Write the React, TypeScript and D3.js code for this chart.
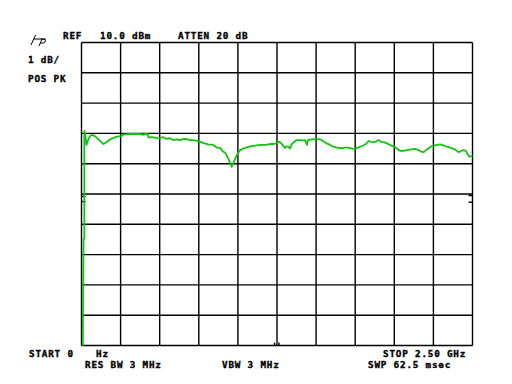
import React from "react";
import * as d3 from "d3";

// Frequency (GHz) and level (dBm)
const freqGHz = [
  0.008, 0.013, 0.018, 0.018, 0.022, 0.032, 0.042, 0.054, 0.067, 0.086, 0.106, 0.125, 0.141, 0.157, 0.182,
  0.208, 0.233, 0.253, 0.272, 0.31, 0.349, 0.38, 0.393, 0.406, 0.422, 0.428, 0.451, 0.476, 0.502, 0.521,
  0.54, 0.566, 0.585, 0.611, 0.63, 0.655, 0.675, 0.694, 0.713, 0.739, 0.758, 0.777, 0.809, 0.841, 0.866,
  0.886, 0.905, 0.921, 0.932, 0.943, 0.953, 0.96, 0.969, 0.975, 0.988, 1.001, 1.013, 1.033, 1.052, 1.077,
  1.103, 1.129, 1.154, 1.18, 1.205, 1.231, 1.25, 1.263, 1.276, 1.29, 1.301, 1.308, 1.322, 1.333, 1.344,
  1.359, 1.376, 1.397, 1.416, 1.429, 1.442, 1.448, 1.467, 1.482, 1.506, 1.525, 1.544, 1.568, 1.589, 1.61,
  1.634, 1.664, 1.685, 1.706, 1.73, 1.749, 1.768, 1.781, 1.8, 1.819, 1.836, 1.851, 1.868, 1.883, 1.9,
  1.915, 1.932, 1.953, 1.985, 2.005, 2.017, 2.038, 2.056, 2.081, 2.107, 2.134, 2.158, 2.171, 2.188, 2.203,
  2.22, 2.235, 2.252, 2.273, 2.294, 2.318, 2.337, 2.356, 2.38, 2.395, 2.412, 2.427, 2.444, 2.459, 2.465,
  2.48, 2.5,
];
const levelDbm = [
  0.0, 3.48, 3.55, 7.08, 7.01, 6.62, 6.78, 6.91, 6.95, 6.91, 6.82, 6.72, 6.65, 6.7, 6.8,
  6.86, 6.9, 6.91, 6.97, 6.98, 6.98, 6.98, 6.95, 6.98, 6.98, 6.87, 6.88, 6.85, 6.84, 6.88,
  6.82, 6.84, 6.78, 6.8, 6.78, 6.82, 6.81, 6.78, 6.78, 6.75, 6.73, 6.69, 6.64, 6.62, 6.53,
  6.52, 6.4, 6.35, 6.23, 6.12, 5.99, 5.9, 5.99, 6.07, 6.23, 6.35, 6.44, 6.5, 6.53, 6.57,
  6.59, 6.61, 6.62, 6.62, 6.65, 6.65, 6.68, 6.73, 6.68, 6.59, 6.52, 6.57, 6.56, 6.5, 6.64,
  6.72, 6.78, 6.78, 6.77, 6.78, 6.62, 6.78, 6.8, 6.81, 6.8, 6.81, 6.75, 6.67, 6.62, 6.56,
  6.53, 6.51, 6.53, 6.53, 6.5, 6.49, 6.53, 6.56, 6.6, 6.65, 6.75, 6.72, 6.71, 6.73, 6.78,
  6.72, 6.71, 6.67, 6.59, 6.55, 6.49, 6.42, 6.42, 6.45, 6.47, 6.49, 6.44, 6.4, 6.38, 6.45,
  6.51, 6.57, 6.59, 6.62, 6.64, 6.6, 6.56, 6.53, 6.49, 6.44, 6.38, 6.42, 6.45, 6.42, 6.34,
  6.23, 6.26,
];

const xTicks = [0, 0.25, 0.5, 0.75, 1.0, 1.25, 1.5, 1.75, 2.0, 2.25, 2.5];
const yTicks = [0, 1, 2, 3, 4, 5, 6, 7, 8, 9, 10];

const topLabels = ["REF", "10.0 dBm", "ATTEN 20 dB"];
const sideLabels = ["1 dB/", "POS PK"];
const bottomRow1 = ["START 0", "Hz", "STOP 2.50 GHz"];
const bottomRow2 = ["RES BW 3 MHz", "VBW 3 MHz", "SWP 62.5 msec"];

const W = 512;
const H = 384;
const L = 81.5, R = 472.5, T = 42.5, B = 345.5;

export default function App() {
  const x = d3.scaleLinear().domain([0, 2.5]).range([L, R]);
  const y = d3.scaleLinear().domain([0, 10]).range([B, T]);
  const pts = freqGHz.map((f, i) => [f, levelDbm[i]] as [number, number]);
  const line = d3
    .line<[number, number]>()
    .x((d) => x(d[0]))
    .y((d) => y(d[1]));

  const font = {
    fontFamily: "'DejaVu Sans Mono', monospace",
    fontWeight: 700 as const,
    fontSize: 9.3,
    letterSpacing: 0.8,
    fill: "#000",
    stroke: "#000",
    strokeWidth: 0.35,
  };
  const topX = [63, 100, 178];
  const b1X = [29, 96, 383];
  const b2X = [85, 222, 368];
  const mid = x(1.25);

  return (
    <svg
      width={W}
      height={H}
      style={{ position: "absolute", left: 0, top: 0, background: "#fff" }}
    >
      <rect x={0} y={0} width={W} height={H} fill="#fff" />
      {/* grid */}
      <g stroke="#000" strokeWidth={1.4}>
        {xTicks.map((t) => (
          <line key={"x" + t} x1={x(t)} x2={x(t)} y1={T} y2={B} />
        ))}
        {yTicks.map((t) => (
          <line key={"y" + t} x1={L} x2={R} y1={y(t)} y2={y(t)} />
        ))}
        {/* reference markers */}
        <line x1={L} x2={L + 4} y1={y(4.92)} y2={y(4.92)} />
        <line x1={L} x2={L + 4} y1={y(4.75)} y2={y(4.75)} />
        <line x1={R - 4} x2={R} y1={y(4.95)} y2={y(4.95)} />
        <line x1={R - 4} x2={R} y1={y(4.73)} y2={y(4.73)} />
        <line x1={mid - 2.5} x2={mid - 2.5} y1={B - 3} y2={B} />
        <line x1={mid + 2} x2={mid + 2} y1={B - 3} y2={B} />
      </g>
      {/* trace */}
      <path d={line(pts) || ""} fill="none" stroke="#12c412" strokeWidth={1.8} strokeLinejoin="round" />
      {/* HP logo */}
      <g stroke="#000" strokeWidth={1} fill="none">
        <line x1={31} y1={45} x2={35.5} y2={35} />
        <line x1={34} y1={39} x2={46} y2={39} />
        <line x1={39} y1={46} x2={42} y2={39} />
        <path d="M41,39 Q47,39 45,42 Q44,43.5 40,43" />
      </g>
      {/* text */}
      {topLabels.map((s, i) => (
        <text key={s} x={topX[i]} y={38.5} style={font}>
          {s}
        </text>
      ))}
      <text x={28} y={63} style={font}>
        {sideLabels[0]}
      </text>
      <text x={28} y={82} style={font}>
        {sideLabels[1]}
      </text>
      {bottomRow1.map((s, i) => (
        <text key={s} x={b1X[i]} y={357} style={font}>
          {s}
        </text>
      ))}
      {bottomRow2.map((s, i) => (
        <text key={s} x={b2X[i]} y={367.5} style={font}>
          {s}
        </text>
      ))}
    </svg>
  );
}
